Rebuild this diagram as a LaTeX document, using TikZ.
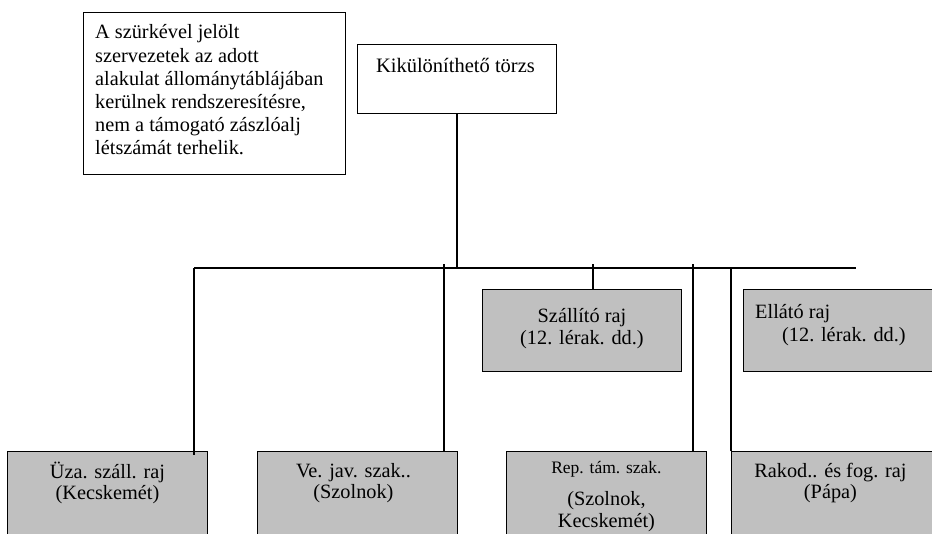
\documentclass[tikz,border=0pt]{standalone}
\usepackage{fontspec}
\setmainfont{Liberation Serif}
\usetikzlibrary{positioning}
\definecolor{szurke}{HTML}{C0C0C0}
\begin{document}
\begin{tikzpicture}[x=1pt,y=-1pt,
  doboz/.style={draw,line width=0.9pt,inner sep=0pt,anchor=north west},
  szdoboz/.style={doboz,fill=szurke},
  szoveg/.style={inner sep=0pt,align=center,font=\fontsize{20.3}{21}\selectfont},
  vonal/.style={line width=1.1pt}]
\useasboundingbox (0,0) rectangle (932,533);
\node[doboz,minimum width=262pt,minimum height=162pt] (megj) at (83,12) {};
\node[szoveg,align=left,font=\fontsize{20.3}{23.2}\selectfont,below right=10.5pt and 12pt of megj.north west] (megjsz)
  {\strut A szürkével jelölt\\szervezetek az adott\\alakulat állománytáblájában\\kerülnek rendszeresítésre,\\nem a támogató zászlóalj\\létszámát terhelik.};
\node[doboz,minimum width=199pt,minimum height=69pt] (torzs) at (357,44) {};
\node[szoveg,font=\fontsize{20.5}{23}\selectfont,below=12.5pt of torzs.north,xshift=-1.5pt] (torzssz) {\strut Kikülöníthető törzs};
\node[szdoboz,minimum width=199pt,minimum height=82pt] (szall) at (482,289) {};
\node[szoveg,font=\fontsize{20.3}{22.5}\selectfont,below=17.5pt of szall.north] (szallsz) {\strut Szállító raj\\(12. lérak. dd.)};
\node[szdoboz,minimum width=192pt,minimum height=82pt] (ellato) at (743,289) {};
\node[szoveg,align=left,font=\fontsize{20.3}{23}\selectfont,below right=12.9pt and 12pt of ellato.north west] (ellatosz)
  {\strut Ellátó raj\\\hspace*{27pt}(12. lérak. dd.)};
\node[szdoboz,minimum width=200pt,minimum height=100pt] (uza) at (7,451) {};
\node[szoveg,below=11.3pt of uza.north] (uzasz) {\strut Üza. száll. raj\\(Kecskemét)};
\node[szdoboz,minimum width=200pt,minimum height=100pt] (vejav) at (257,451) {};
\node[szoveg,below=11.3pt of vejav.north,xshift=-4pt] (vejavsz) {\strut Ve. jav. szak..\\(Szolnok)};
\node[szdoboz,minimum width=200pt,minimum height=100pt] (rep) at (506,451) {};
\node[szoveg,font=\fontsize{20.3}{22}\selectfont,below=6.6pt of rep.north] (repsz)
  {\strut{\fontsize{17.5}{21}\selectfont Rep. tám. szak.}\\[10pt](Szolnok,\\Kecskemét)};
\node[szdoboz,minimum width=204pt,minimum height=100pt] (rakod) at (731,451) {};
\node[szoveg,below=11.3pt of rakod.north,xshift=-3pt] (rakodsz) {\strut Rakod.. és fog. raj\\(Pápa)};
\coordinate (bb) at (194,268);
\coordinate (bj) at (856,268);
\coordinate (b2) at (444,264);
\coordinate (b3) at (593,264);
\coordinate (b4) at (693,264);
\draw[vonal] (bb) -- (bj);
\draw[vonal] (torzs) -- (torzs |- bb);
\draw[vonal] (bb) -- ([yshift=-4pt]bb |- uza.north);
\draw[vonal] (b2) -- (b2 |- vejav.north);
\draw[vonal] (b3) -- (b3 |- szall.north);
\draw[vonal] (b4) -- (b4 |- rep.north);
\draw[vonal] (bb -| rakod.north west) -- (rakod.north west);
\end{tikzpicture}
\end{document}
